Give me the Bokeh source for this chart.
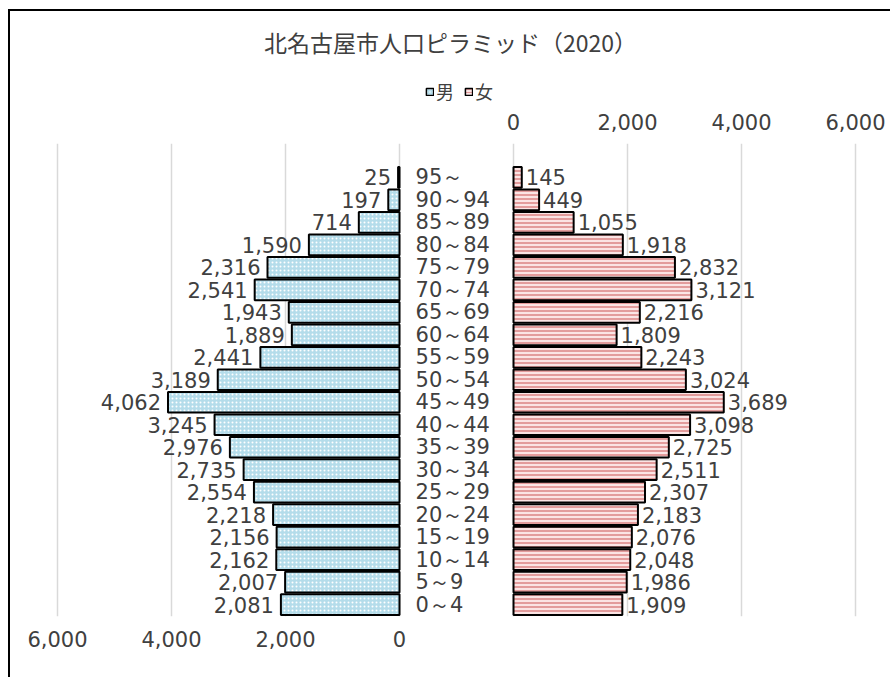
from bokeh.plotting import figure
from bokeh.layouts import column
from bokeh.models import ColumnDataSource, LinearAxis, FixedTicker, Grid, Legend, LegendItem, Range1d
from bokeh.core.properties import value
from bokeh.embed import file_html
from bokeh.resources import INLINE

# ---- data (top row first) ----
ages = ["95～", "90～94", "85～89", "80～84", "75～79", "70～74", "65～69", "60～64",
        "55～59", "50～54", "45～49", "40～44", "35～39", "30～34", "25～29", "20～24",
        "15～19", "10～14", "5～9", "0～4"]
male = [25, 197, 714, 1590, 2316, 2541, 1943, 1889, 2441, 3189, 4062, 3245, 2976,
        2735, 2554, 2218, 2156, 2162, 2007, 2081]
female = [145, 449, 1055, 1918, 2832, 3121, 2216, 1809, 2243, 3024, 3689, 3098, 2725,
          2511, 2307, 2183, 2076, 2048, 1986, 1909]
male_ticks = [6000, 4000, 2000, 0]
female_ticks = [0, 2000, 4000, 6000]
series_names = ["男", "女"]
title_text = "北名古屋市人口ピラミッド（2020）"

GAP = 2000  # data-unit gap between the two halves (age label column)
n = len(ages)
ypos = [n - 1 - k for k in range(n)]

src = ColumnDataSource(dict(
    y=ypos, age=ages,
    mleft=[-v for v in male], mright=[0] * n,
    fleft=[GAP] * n, fright=[GAP + v for v in female],
    mlab=[f"{v:,}" for v in male], flab=[f"{v:,}" for v in female],
    zero=[0] * n,
))

W = 880
TXT = "#404040"
NUMFONT = "DejaVu Sans"
JPFONT = "Noto Sans CJK JP"
MALE_STYLE = dict(fill_color="#b4dcea", hatch_pattern=".", hatch_color="white", hatch_scale=4,
                  hatch_weight=1.2, line_color="black", line_width=2)
FEMALE_STYLE = dict(fill_color="#fbe4e4", hatch_pattern="-", hatch_color="#e39c9c", hatch_scale=4,
                    hatch_weight=2, line_color="black", line_width=2)
LEG_MALE = dict(MALE_STYLE, line_width=1.5, hatch_scale=3)
LEG_FEMALE = dict(FEMALE_STYLE, line_width=1.5, hatch_scale=3, hatch_weight=1)

xr = Range1d(-6825, 8614)

# ---------- header figure: title + legend ----------
head = figure(width=W, height=97, output_backend="svg", toolbar_location=None,
              x_range=xr, y_range=Range1d(-100, -99), x_axis_type=None, y_axis_type=None,
              min_border_left=0, min_border_right=0, min_border_top=50, min_border_bottom=0,
              title=title_text)
head.outline_line_color = None
head.grid.visible = False
head.title.align = "center"
head.title.text_font = JPFONT
head.title.text_font_size = "23px"
head.title.text_font_style = "normal"
head.title.text_color = TXT
head.title.standoff = 6

# hidden renderers that only feed the legend swatches
lm = head.hbar(y="y", left="mleft", right="mright", height=0.92, source=src, **LEG_MALE)
lf = head.hbar(y="y", left="fleft", right="fright", height=0.92, source=src, **LEG_FEMALE)
lm.visible = False
lf.visible = False
legend = Legend(items=[LegendItem(label=series_names[0], renderers=[lm]),
                       LegendItem(label=series_names[1], renderers=[lf])],
                orientation="horizontal", location=(415, 4), border_line_color=None,
                background_fill_alpha=0, glyph_width=9, glyph_height=9, label_height=18,
                label_text_font=JPFONT, label_text_font_size="18px", label_text_color=TXT,
                spacing=8, padding=0, margin=0, label_standoff=2, click_policy="none")
head.add_layout(legend)

# ---------- main figure ----------
p = figure(width=W, height=569, output_backend="svg", toolbar_location=None,
           x_range=xr, y_range=Range1d(-0.53, 20.51),
           x_axis_type=None, y_axis_type=None,
           min_border_left=0, min_border_right=0, min_border_top=35, min_border_bottom=61)
p.outline_line_color = None

grid = Grid(dimension=0, ticker=FixedTicker(ticks=[-t for t in male_ticks] + [GAP + t for t in female_ticks]),
            grid_line_color="#d9d9d9", grid_line_width=1.5)
p.add_layout(grid)

def style_axis(ax):
    ax.axis_line_color = None
    ax.major_tick_line_color = None
    ax.minor_tick_line_color = None
    ax.major_label_text_font = NUMFONT
    ax.major_label_text_font_size = "21px"
    ax.major_label_text_color = TXT
    ax.major_label_standoff = 8

top_ax = LinearAxis(ticker=FixedTicker(ticks=[GAP + t for t in female_ticks]),
                    major_label_overrides={GAP + t: f"{t:,}" for t in female_ticks})
style_axis(top_ax)
bot_ax = LinearAxis(ticker=FixedTicker(ticks=[-t for t in male_ticks]),
                    major_label_overrides={-t: f"{t:,}" for t in male_ticks})
style_axis(bot_ax)
p.add_layout(top_ax, "above")
p.add_layout(bot_ax, "below")

p.hbar(y="y", left="mleft", right="mright", height=0.92, source=src, **MALE_STYLE)
p.hbar(y="y", left="fleft", right="fright", height=0.92, source=src, **FEMALE_STYLE)

p.text(x="mleft", y="y", text="mlab", source=src, x_offset=-7, text_align="right",
       text_baseline="middle", text_font=value(NUMFONT), text_font_size="21px", text_color=TXT)
p.text(x="fright", y="y", text="flab", source=src, x_offset=4, text_align="left",
       text_baseline="middle", text_font=value(NUMFONT), text_font_size="21px", text_color=TXT)
p.text(x="zero", y="y", text="age", source=src, x_offset=16, text_align="left",
       text_baseline="middle", text_font=value(NUMFONT), text_font_size="21px", text_color=TXT)

layout = column(head, p, spacing=0)
layout.margin = (9, 0, 0, 8)
layout.styles = {"border-top": "2px solid #000", "border-left": "2px solid #000"}

open("out.html", "w").write(file_html(layout, INLINE))
